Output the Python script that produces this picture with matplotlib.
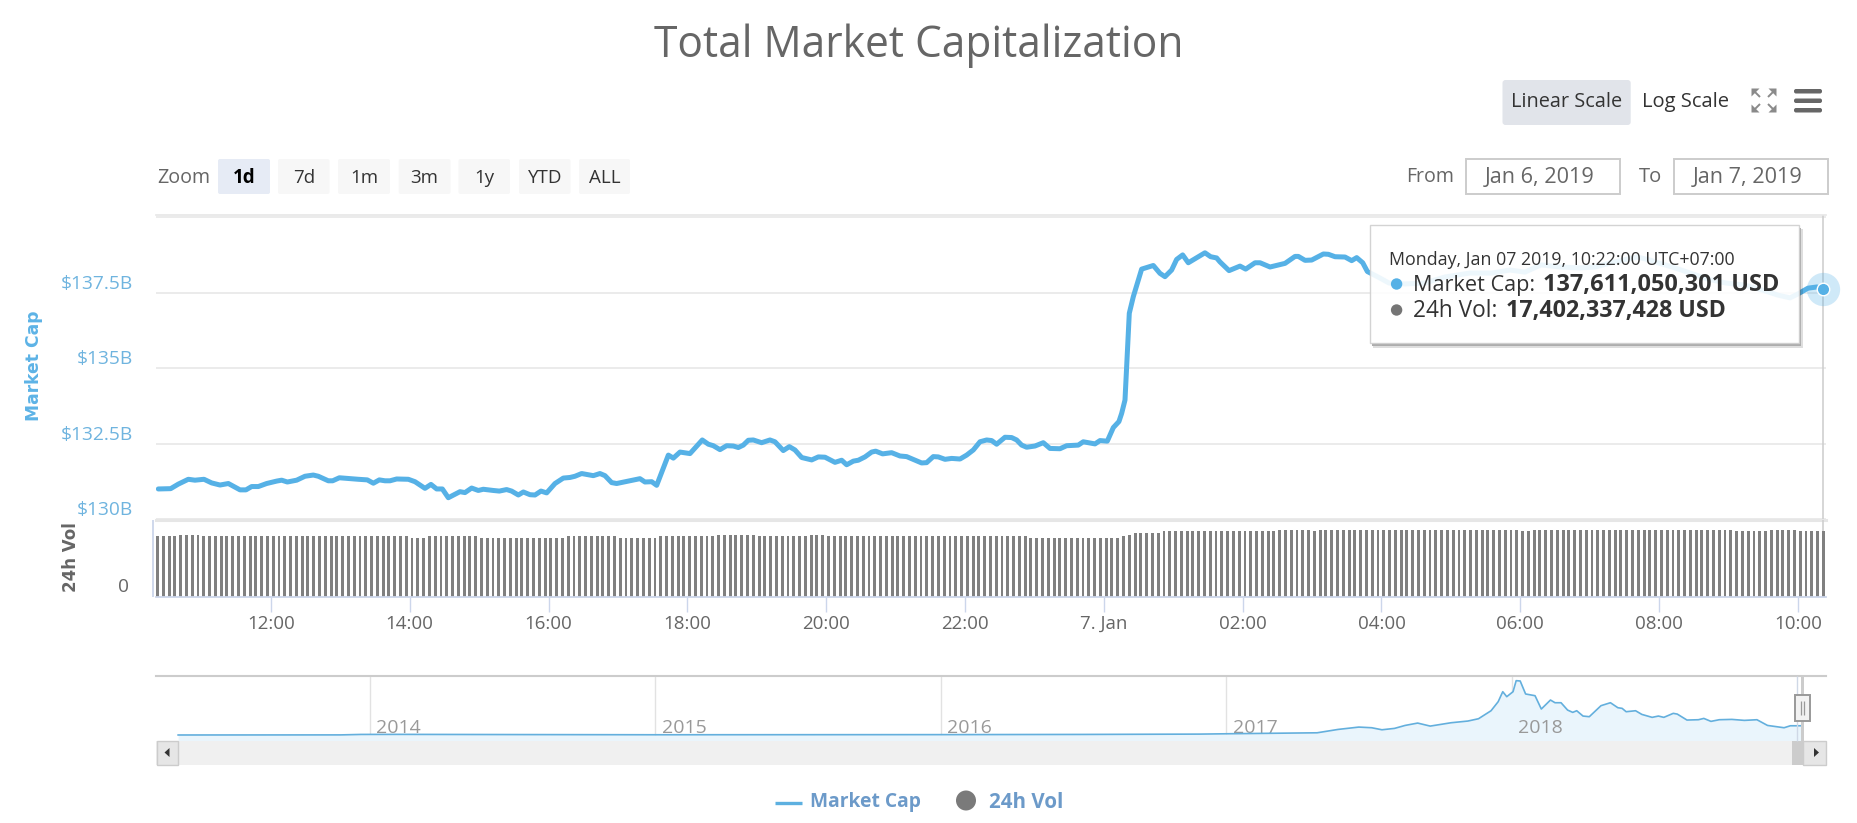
import numpy as np
import matplotlib
matplotlib.use("Agg")
import matplotlib.pyplot as plt
from matplotlib.patches import Rectangle, FancyBboxPatch, Polygon, Circle
from matplotlib.lines import Line2D
from matplotlib.transforms import Affine2D, ScaledTranslation

# ---------- data ----------
cap_hours = [10.378,10.556,10.666,10.810,10.906,11.036,11.146,11.267,11.387,11.555,11.641,11.723,11.819,11.939,12.083,12.155,12.237,12.371,12.491,12.611,12.683,12.827,12.890,12.986,13.091,13.259,13.389,13.476,13.562,13.644,13.716,13.812,13.980,14.076,14.220,14.306,14.388,14.470,14.556,
 14.724,14.796,14.892,14.988,15.060,15.204,15.291,15.396,15.468,15.565,15.637,15.733,15.805,15.891,15.973,16.093,16.213,16.309,16.381,16.477,16.645,16.741,16.813,16.909,16.981,17.125,17.317,17.389,17.486,17.558,17.726,17.798,17.894,18.038,18.215,18.302,18.374,18.470,18.566,18.662,18.734,
 18.806,18.878,18.950,19.070,19.190,19.262,19.382,19.469,19.550,19.647,19.791,19.887,19.983,20.127,20.223,20.295,20.391,20.463,20.559,20.655,20.713,20.813,20.943,21.063,21.159,21.375,21.447,21.543,21.615,21.712,21.808,21.928,22.024,22.120,22.216,22.312,22.384,22.456,22.576,22.672,22.744,22.816,22.888,
 23.008,23.128,23.224,23.368,23.464,23.632,23.704,23.873,23.945,24.050,24.137,24.218,24.257,24.305,24.329,24.367,24.425,24.545,24.713,24.809,24.881,24.977,25.049,25.136,25.217,25.457,25.539,25.625,25.673,
 25.804,25.962,26.044,26.179,26.251,26.395,26.611,26.755,26.803,26.899,26.995,27.163,27.235,27.331,27.475,27.571,27.643,27.730,27.797,
 27.950,28.109,28.339,28.627,28.915,29.275,29.592,29.851,30.067,30.298,30.571,30.860,31.076,31.364,31.681,31.869,31.998,32.229,32.445,32.704,32.964,33.238,33.526,33.713,33.886,34.001,34.145,34.275,34.367]
market_cap = [131.01,131.02,131.17,131.33,131.30,131.33,131.21,131.14,131.19,130.98,130.98,131.09,131.09,131.19,131.27,131.30,131.24,131.30,131.43,131.47,131.43,131.28,131.28,131.38,131.36,131.33,131.31,131.20,131.31,131.28,131.28,131.34,131.33,131.25,131.03,131.16,131.01,131.01,130.72,
 130.92,130.89,131.04,130.96,131.00,130.96,130.94,130.99,130.94,130.81,130.91,130.82,130.81,130.94,130.88,131.19,131.37,131.39,131.43,131.52,131.45,131.52,131.45,131.22,131.19,131.26,131.35,131.24,131.25,131.13,132.13,132.03,132.23,132.18,132.63,132.49,132.44,132.31,132.44,132.43,132.38,
 132.46,132.62,132.63,132.54,132.63,132.57,132.28,132.41,132.30,132.05,131.97,132.07,132.06,131.89,131.96,131.81,131.93,131.96,132.07,132.23,132.26,132.17,132.21,132.10,132.08,131.87,131.88,132.08,132.07,131.99,132.02,132.00,132.13,132.30,132.57,132.63,132.61,132.49,132.72,132.71,132.63,132.46,132.39,
 132.43,132.54,132.35,132.34,132.44,132.46,132.57,132.50,132.61,132.59,133.04,133.24,133.51,133.95,135.05,136.82,137.37,138.28,138.40,138.14,138.03,138.25,138.60,138.75,138.49,138.82,138.69,138.65,138.52,
 138.23,138.38,138.28,138.49,138.49,138.35,138.47,138.70,138.70,138.57,138.58,138.78,138.77,138.69,138.68,138.56,138.66,138.49,138.20,
 138.02,137.82,137.79,137.82,138.02,138.15,138.15,138.25,138.18,138.42,138.35,138.32,138.35,138.52,138.68,138.58,138.48,138.32,138.15,137.95,137.82,137.75,137.56,137.42,137.33,137.46,137.65,137.69,137.61]

vol_runs   = [4,4,36,3,9,15,9,7,10,7,9,3,35,16,1,1,5,20,6,1,35,2,35,6,5,5]
vol_levels = [16.05,16.5,16.05,15.6,16.05,15.6,16.05,15.6,16.05,16.5,16.05,16.5,16.05,15.6,16.05,16.5,17.05,17.4,17.85,17.4,17.85,17.4,17.85,17.4,17.85,17.4]

x_ticks = [12,14,16,18,20,22,24,26,28,30,32,34]
x_tick_labels = ["12:00","14:00","16:00","18:00","20:00","22:00","7. Jan","02:00","04:00","06:00","08:00","10:00"]
y_ticks = [130,132.5,135,137.5,140]
y_tick_labels = ["$130B","$132.5B","$135B","$137.5B",""]

nav_years = [2013.33,2013.9,2013.97,2014.1,2014.5,2015.0,2016.0,2016.5,2016.907,2017.0,2017.318,2017.391,2017.464,2017.509,2017.545,2017.589,2017.626,2017.67,2017.714,2017.787,2017.846,2017.883,2017.927,2017.952,2017.968,2017.982,2018.004,2018.015,2018.029,2018.048,2018.081,2018.103,2018.135,2018.151,2018.172,2018.195,2018.213,2018.227,2018.249,2018.271,2018.312,2018.345,2018.371,2018.386,2018.4,2018.433,2018.455,2018.491,2018.513,2018.532,2018.565,2018.579,2018.613,2018.653,2018.672,2018.697,2018.726,2018.77,2018.814,2018.858,2018.895,2018.953,2018.975,2019.011]
nav_cap = [1.5,3,10,11,8,5,7,10,15,20,35,86,122,112,81,102,147,183,137,188,214,249,371,509,661,585,661,829,824,626,600,397,534,493,493,381,346,371,290,280,448,493,417,407,356,371,315,270,290,270,331,320,229,234,254,209,234,239,224,234,147,112,142,142]
nav_ticks = [2014,2015,2016,2017,2018]
nav_tick_labels = ["2014","2015","2016","2017","2018"]

zoom_labels = ["1d","7d","1m","3m","1y","YTD","ALL"]

# ---------- layout ----------
W, H = 1857, 823
FONT = "Open Sans"
plt.rcParams["font.family"] = [FONT, "DejaVu Sans"]
fig = plt.figure(figsize=(W/100, H/100), dpi=100, facecolor="white")
T = Affine2D().scale(1, -1).translate(0, H)
rend = fig.canvas.get_renderer()
DY = 2.4

def axes_px(x0, x1, top, bottom):
    return fig.add_axes([x0/W, 1-bottom/H, (x1-x0)/W, (bottom-top)/H])

def put(s, x0, x1, yc, color="#333333", weight="normal", z=8):
    t = fig.text(x0, yc+DY, s, transform=T, ha="left", va="center", color=color,
                 weight=weight, fontsize=10, zorder=z)
    t.set_fontsize(10*(x1-x0)/t.get_window_extent(rend).width)

def rect(x0, y0, x1, y1, fc, ec="none", lw=0, alpha=None, z=2, round_=0):
    if round_:
        p = FancyBboxPatch((x0, y0), x1-x0, y1-y0, boxstyle=f"round,pad=0,rounding_size={round_}",
                           fc=fc, ec=ec, lw=lw, alpha=alpha, transform=T, zorder=z)
    else:
        p = Rectangle((x0, y0), x1-x0, y1-y0, fc=fc, ec=ec, lw=lw, alpha=alpha, transform=T, zorder=z)
    fig.add_artist(p)

def seg(xs, ys, color, lw, z=2):
    fig.add_artist(Line2D(xs, ys, color=color, lw=lw, transform=T, zorder=z, solid_capstyle="butt"))

def tri(pts, color, z=3):
    fig.add_artist(Polygon(pts, closed=True, fc=color, ec="none", transform=T, zorder=z))

XL, XR = 156, 1825.5
HL = 12+(XL-270.9)/69.41
HR = 12+(XR-270.9)/69.41
LINE = "#56B1E6"

# ---------- main panel ----------
ax = axes_px(XL, XR, 214.7, 519.5)
ax.set_xlim(HL, HR)
ax.set_ylim(130, 130+304.8/75.6*2.5)
ax.patch.set_alpha(0)
for s in ax.spines.values():
    s.set_visible(False)
ax.spines["bottom"].set_visible(True)
ax.spines["bottom"].set_color("#e6e6e6")
ax.spines["bottom"].set_linewidth(2.2)
ax.spines["top"].set_visible(True)
ax.spines["top"].set_color("#e6e6e6")
ax.spines["top"].set_linewidth(1.2)
ax.set_xticks([])
ax.set_yticks(y_ticks)
ax.set_yticklabels(y_tick_labels, color="#6FB4DF", fontsize=13.8)
ax.tick_params(axis="y", length=0, pad=16.6)
shift = ScaledTranslation(0, 11/100, fig.dpi_scale_trans)
for t in ax.get_yticklabels():
    t.set_transform(t.get_transform()+shift)
ax.grid(axis="y", color="#e8e8e8", lw=1.2)
ax.set_axisbelow(True)
ax.axvline(cap_hours[-1], color="#cccccc", lw=1.1, zorder=1)
ax.plot(cap_hours, market_cap, color=LINE, lw=3.6, solid_joinstyle="round", solid_capstyle="round", zorder=3)
ax.plot(cap_hours[-1], market_cap[-1], "o", ms=24, mfc=LINE, mec="none", alpha=0.28, clip_on=False, zorder=4)
ax.plot(cap_hours[-1], market_cap[-1], "o", ms=9, mfc=LINE, mec="white", mew=1, clip_on=False, zorder=5)

# ---------- volume panel ----------
vol = np.repeat(vol_levels, vol_runs)
bar_hours = (10+22/60) + np.arange(len(vol))*5/60
av = axes_px(XL, XR, 519.5, 596.5)
av.set_xlim(HL, HR)
av.set_ylim(0, 77/3.75)
av.patch.set_alpha(0)
for s in av.spines.values():
    s.set_visible(False)
av.spines["bottom"].set_visible(True)
av.spines["bottom"].set_color("#ccd6eb")
av.spines["bottom"].set_linewidth(1.3)
av.axvline(cap_hours[-1], color="#cccccc", lw=1.1, zorder=1)
av.bar(bar_hours, vol, width=2.9/69.41, color="#808080", lw=0, zorder=2)
av.set_xticks(x_ticks)
av.set_xticklabels(x_tick_labels, color="#666666", fontsize=13.5)
av.tick_params(axis="x", length=10.8, width=1, color="#ccd6eb", pad=2.2)
av.set_yticks([0])
av.set_yticklabels(["0"], color="#666666", fontsize=13.8)
av.tick_params(axis="y", length=0, pad=19.5)
for t in av.get_yticklabels():
    t.set_transform(t.get_transform()+shift)

seg([152.7, 152.7], [520, 596.5], "#ccd6eb", 1.3)
fig.text(34, 366, "Market Cap", transform=T, rotation=90, ha="center", va="center",
         color="#5DB3E6", weight="bold", family="DejaVu Sans", fontsize=12.3)
fig.text(71, 557, "24h Vol", transform=T, rotation=90, ha="center", va="center",
         color="#666666", weight="bold", family="DejaVu Sans", fontsize=12)

# ---------- navigator ----------
an = axes_px(XL, 1826, 676, 741)
an.set_xlim(2014+(XL-369.5)/285.6, 2014+(1826-369.5)/285.6)
an.set_ylim(-90, 900)
an.patch.set_alpha(0)
for s in an.spines.values():
    s.set_visible(False)
an.spines["top"].set_visible(True)
an.spines["top"].set_color("#cccccc")
an.spines["top"].set_linewidth(1.5)
an.set_yticks([])
an.set_xticks(nav_ticks)
an.set_xticklabels([])
an.tick_params(axis="x", length=0)
an.grid(axis="x", color="#e2e2e2", lw=1)
an.set_axisbelow(True)
an.fill_between(nav_years, nav_cap, -90, color="#EAF5FC", lw=0, zorder=1)
an.plot(nav_years, nav_cap, color="#63AFDD", lw=1.2, zorder=3)
for yr, lab in zip(nav_ticks, nav_tick_labels):
    an.annotate(lab, (yr, 0), xycoords=("data", "axes fraction"), xytext=(6.5, 13),
                textcoords="offset pixels", va="center", ha="left", color="#999999", fontsize=14, zorder=2)

# navigator handle + scrollbar
rect(XL, 741, 1826, 764.5, "#f0f0f0")
rect(156.5, 741, 177.5, 764.5, "#e6e6e6", ec="#cccccc", lw=1)
rect(1791.5, 741, 1803, 764.5, "#cccccc")
rect(1803, 741, 1826, 764.5, "#e6e6e6", ec="#cccccc", lw=1)
tri([(169.5, 748), (169.5, 757), (164.5, 752.5)], "#333333")
tri([(1814, 748), (1814, 757), (1819, 752.5)], "#333333")
seg([1796.5, 1796.5], [676, 741], "#cfd8e6", 1)
rect(1801, 676, 1804, 741, "#cccccc")
rect(1795, 695, 1809.5, 720.7, "#f2f2f2", ec="#999999", lw=1.4, z=3)
seg([1800.7, 1800.7], [701, 715], "#999999", 0.9, z=4)
seg([1803.7, 1803.7], [701, 715], "#999999", 0.9, z=4)

# ---------- title & controls ----------
put("Total Market Capitalization", 654, 1185.5, 43.6, color="#666666")

rect(1502.5, 80, 1630.7, 125, "#e1e4ea", round_=3)
put("Linear Scale", 1510.7, 1621.5, 100)
put("Log Scale", 1642, 1729, 100)
for sx, sy in ((-1, -1), (1, -1), (-1, 1), (1, 1)):
    cx, cy = 1764+sx*12.5, 100.5+sy*12
    tri([(cx, cy), (cx-sx*8, cy), (cx, cy-sy*8)], "#8a8a8a")
    seg([cx-sx*3, cx-sx*8.5], [cy-sy*3, cy-sy*8.5], "#8a8a8a", 1.4)
for y0 in (89, 98.5, 108):
    rect(1794, y0, 1822, y0+4.5, "#666666", round_=2)

put("Zoom", 157, 210, 175.5, color="#666666")
zoom_edges = [(218, 270), (278, 329.5), (338, 390), (398.7, 450.5), (458.5, 510), (519, 570.5), (579, 630)]
for i, (lab, (a, b)) in enumerate(zip(zoom_labels, zoom_edges)):
    rect(a, 159, b, 194, "#e6ebf5" if i == 0 else "#f7f7f7", round_=2)
    fig.text((a+b)/2, 175.5+DY, lab, transform=T, ha="center", va="center", fontsize=13.5,
             color="#000000" if i == 0 else "#333333", weight="bold" if i == 0 else "normal", zorder=3)

put("From", 1406.6, 1454.5, 175, color="#666666")
rect(1466, 159, 1620, 194, "white", ec="#cccccc", lw=1.4)
put("Jan 6, 2019", 1485, 1595, 175, color="#666666")
put("To", 1639, 1662, 175, color="#666666")
rect(1674.4, 159, 1827.5, 194, "white", ec="#cccccc", lw=1.4)
put("Jan 7, 2019", 1693, 1803, 175, color="#666666")

# ---------- tooltip ----------
TZ = 6
rect(1799, 228, 1801, 346, "#000000", alpha=0.32, z=TZ)
rect(1801, 229, 1803, 348, "#000000", alpha=0.13, z=TZ)
rect(1372, 343, 1799, 346, "#000000", alpha=0.32, z=TZ)
rect(1373, 346, 1801, 348, "#000000", alpha=0.13, z=TZ)
rect(1369.6, 225, 1799, 343, "white", ec="#cfcfcf", lw=1, alpha=0.90, z=TZ+1)
put("Monday, Jan 07 2019, 10:22:00 UTC+07:00", 1389, 1734, 258)
fig.add_artist(Circle((1396.6, 284), 5.7, fc=LINE, ec="none", transform=T, zorder=8))
fig.add_artist(Circle((1396.6, 310), 5.7, fc="#757575", ec="none", transform=T, zorder=8))
put("Market Cap:", 1413, 1535, 282.7)
put("137,611,050,301 USD", 1543, 1778, 282.7, weight="bold")
put("24h Vol:", 1413, 1497, 308.5)
put("17,402,337,428 USD", 1506, 1726, 308.5, weight="bold")

# ---------- legend ----------
seg([774.5, 802], [803, 803], "#5DB0E0", 2.4)
put("Market Cap", 810, 921, 800, color="#6C9AC9", weight="bold")
fig.add_artist(Circle((966, 800.5), 10, fc="#7a7a7a", ec="none", transform=T, zorder=3))
put("24h Vol", 989, 1063.5, 800, color="#6C9AC9", weight="bold")

fig.savefig("out.png", dpi=100, facecolor="white")
